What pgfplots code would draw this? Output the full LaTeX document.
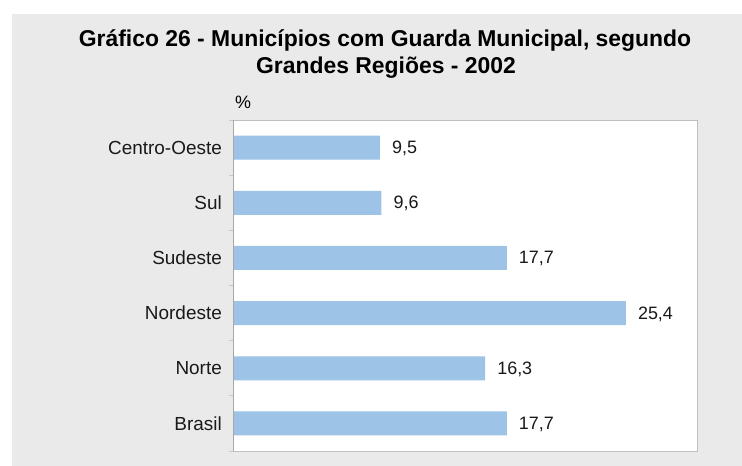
\documentclass[border=0pt]{standalone}
\usepackage{fontspec}
\setmainfont{Liberation Sans}
\usepackage{pgfplots}
\pgfplotsset{compat=1.18}
\definecolor{bg}{HTML}{EAEAEA}
\definecolor{barc}{HTML}{9DC3E6}
\definecolor{framec}{HTML}{BFBFBF}
\definecolor{leftc}{HTML}{A8A8A8}
\definecolor{tickc}{HTML}{C4C4DC}
\begin{document}
\begin{tikzpicture}
\fill[white] (0,0) rectangle (742bp,466bp);
\fill[bg] (12bp,0) rectangle (742bp,452bp);
\node[anchor=base, inner sep=0pt, font=\bfseries\fontsize{23}{27}\selectfont] at (385bp,419bp) {Gráfico 26 - Municípios com Guarda Municipal, segundo};
\node[anchor=base, inner sep=0pt, font=\bfseries\fontsize{23}{27}\selectfont] at (386bp,392bp) {Grandes Regiões - 2002};
\begin{axis}[
  anchor=south west, at={(233bp,15bp)},
  width=464bp, height=331bp, scale only axis,
  clip=false,
  xbar, bar width=24bp,
  xmin=0, xmax=30, ymin=-0.5, ymax=5.5,
  axis background/.style={fill=white},
  axis line style={framec, line width=1bp},
  xtick=\empty,
  ytick pos=left,
  ytick={0,...,5},
  yticklabels={Brasil,Norte,Nordeste,Sudeste,Sul,Centro-Oeste},
  major tick length=0pt,
  minor ytick={-0.5,0.5,...,5.5},
  minor tick length=4bp,
  tick align=outside,
  every minor tick/.style={tickc, line width=1bp},
  yticklabel style={font=\fontsize{19}{22}\selectfont, text=black!90, inner sep=0pt, xshift=-11bp},
  point meta=x,
  nodes near coords,
  nodes near coords style={anchor=west, inner sep=0pt, xshift=12bp, yshift=-1bp, font=\fontsize{18}{20}\selectfont, text=black!90},
  /pgf/number format/.cd, fixed, fixed zerofill, precision=1, use comma, assume math mode=true,
]
\addplot[fill=barc, draw=none] coordinates {
  (17.7,0)
  (16.3,1)
  (25.4,2)
  (17.7,3)
  (9.6,4)
  (9.5,5)
};
\draw[leftc, line width=1bp] (rel axis cs:0,0) -- (rel axis cs:0,1);
\node[anchor=base west, inner sep=0pt, font=\fontsize{18}{20}\selectfont, xshift=2bp, yshift=12bp] at (rel axis cs:0,1) {\%};
\end{axis}
\pgfresetboundingbox
\path[use as bounding box] (0,0) rectangle (742bp,466bp);
\end{tikzpicture}
\end{document}
